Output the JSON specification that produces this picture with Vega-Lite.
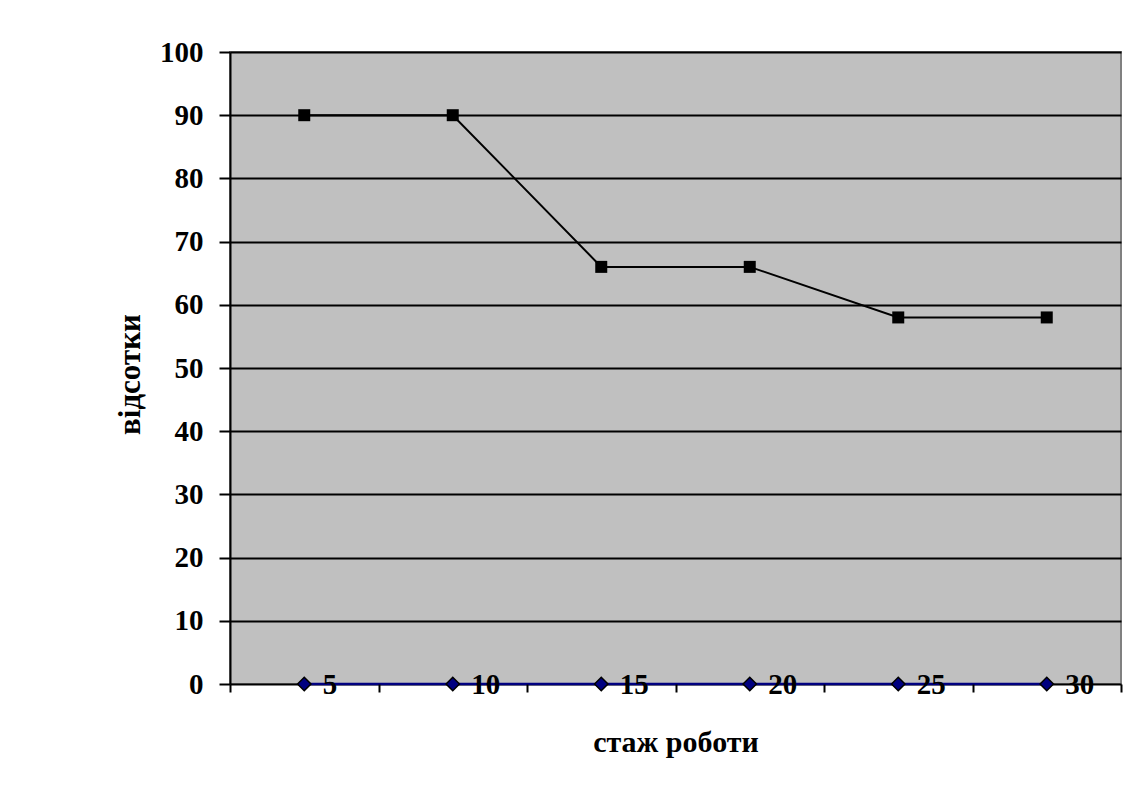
{
  "$schema": "https://vega.github.io/schema/vega-lite/v6.json",
  "autosize": {"type": "none"},
  "width": 891,
  "height": 632,
  "padding": {"left": 230, "top": 52, "right": 8, "bottom": 112},
  "background": "white",
  "config": {
    "view": {"fill": "#C0C0C0", "stroke": "#808080", "strokeWidth": 2},
    "font": "Liberation Serif"
  },
  "data": {
    "values": [
      {"x": "5", "series": "A", "v": 90},
      {"x": "10", "series": "A", "v": 90},
      {"x": "15", "series": "A", "v": 66},
      {"x": "20", "series": "A", "v": 66},
      {"x": "25", "series": "A", "v": 58},
      {"x": "30", "series": "A", "v": 58},
      {"x": "5", "series": "B", "v": 0},
      {"x": "10", "series": "B", "v": 0},
      {"x": "15", "series": "B", "v": 0},
      {"x": "20", "series": "B", "v": 0},
      {"x": "25", "series": "B", "v": 0},
      {"x": "30", "series": "B", "v": 0}
    ]
  },
  "encoding": {
    "x": {
      "field": "x",
      "type": "ordinal",
      "sort": ["5", "10", "15", "20", "25", "30"],
      "scale": {"type": "band", "paddingInner": 0, "paddingOuter": 0},
      "axis": {
        "title": "стаж роботи",
        "titleFont": "Liberation Serif",
        "titleFontSize": 30,
        "titleFontWeight": "bold",
        "titleColor": "black",
        "titleBaseline": "alphabetic",
        "titleY": 67,
        "labelAngle": 0,
        "labelFont": "Liberation Serif",
        "labelFontSize": 29,
        "labelFontWeight": "bold",
        "labelColor": "black",
        "labelAlign": "left",
        "labelBaseline": "middle",
        "labelOffset": 18,
        "labelPadding": -8,
        "tickBand": "extent",
        "tickSize": 8,
        "tickWidth": 2,
        "tickColor": "black",
        "domain": false,
        "grid": false,
        "zindex": 1
      }
    },
    "y": {
      "field": "v",
      "type": "quantitative",
      "scale": {"domain": [0, 100], "nice": false, "zero": true},
      "axis": {
        "title": "відсотки",
        "titleFont": "Liberation Serif",
        "titleFontSize": 31,
        "titleFontWeight": "bold",
        "titleColor": "black",
        "titleX": -100,
        "titleY": 322,
        "titleAngle": -90,
        "titleAlign": "center",
        "titleBaseline": "middle",
        "values": [0, 10, 20, 30, 40, 50, 60, 70, 80, 90, 100],
        "labelFont": "Liberation Serif",
        "labelFontSize": 29,
        "labelFontWeight": "bold",
        "labelColor": "black",
        "labelPadding": 16,
        "tickSize": 11,
        "tickWidth": 2,
        "tickColor": "black",
        "domainColor": "black",
        "domainWidth": 2,
        "grid": true,
        "gridColor": "black",
        "gridWidth": 2,
        "gridOpacity": 1
      }
    }
  },
  "layer": [
    {
      "transform": [{"filter": "datum.series == 'A'"}],
      "mark": {"type": "line", "color": "black", "strokeWidth": 2}
    },
    {
      "transform": [{"filter": "datum.series == 'A'"}],
      "mark": {"type": "square", "color": "black", "filled": true, "opacity": 1, "size": 144}
    },
    {
      "transform": [{"filter": "datum.series == 'B'"}],
      "mark": {"type": "line", "color": "#000080", "strokeWidth": 2.5}
    },
    {
      "transform": [{"filter": "datum.series == 'B'"}],
      "mark": {"type": "point", "shape": "diamond", "filled": true, "fill": "#000080", "stroke": "black", "strokeWidth": 1.5, "opacity": 1, "size": 180}
    }
  ]
}
